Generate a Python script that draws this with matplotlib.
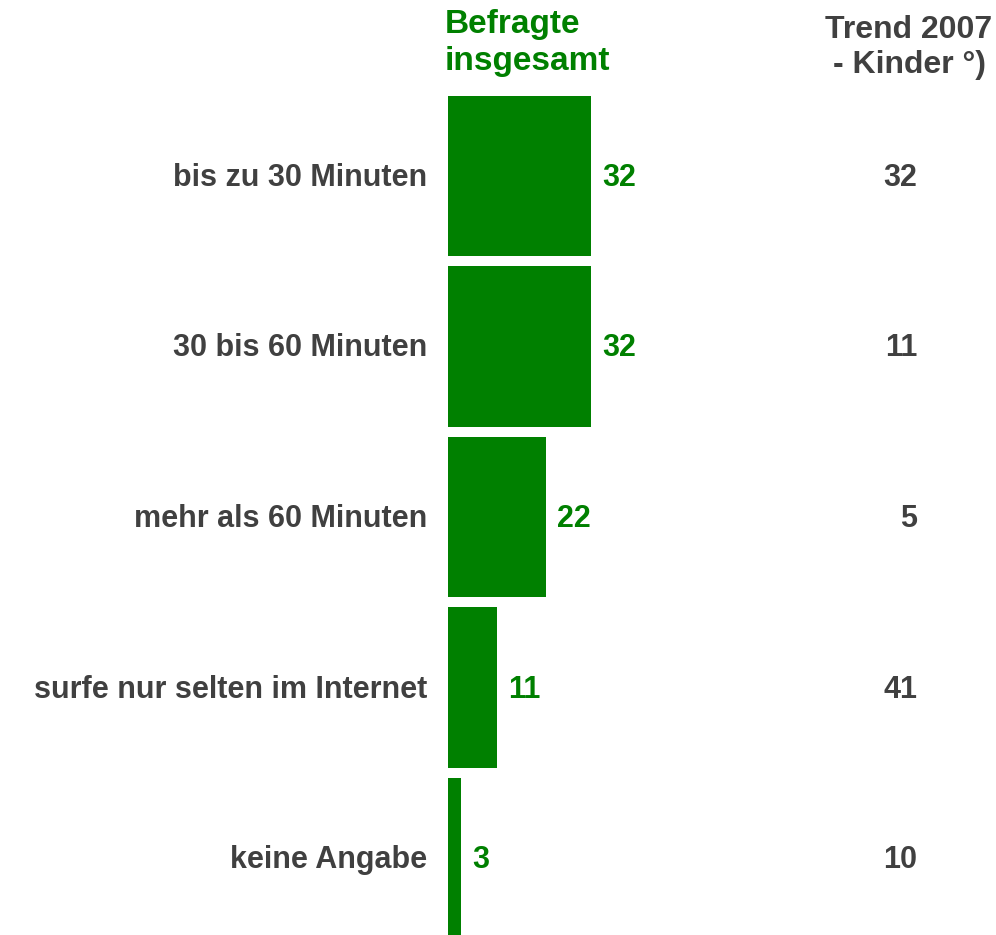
import matplotlib.pyplot as plt

plt.rcParams['font.family'] = ['Liberation Sans', 'DejaVu Sans']

categories = ['bis zu 30 Minuten', '30 bis 60 Minuten', 'mehr als 60 Minuten',
              'surfe nur selten im Internet', 'keine Angabe']
befragte = [32, 32, 22, 11, 3]
trend_2007 = [32, 11, 5, 41, 10]

green = '#008000'
gray = '#404040'
fs = 22

W, H = 996, 935
fig = plt.figure(figsize=(W / 100, H / 100), dpi=100)
# bars start at x=448 px, axes fills to the right edge
ax = fig.add_axes([448 / W, 0, 1 - 448 / W, 1])
ax.set_xlim(0, (W - 448) / 4.47)
ax.set_ylim((935 - 176) / 170.5, -176 / 170.5)
ax.axis('off')

ypos = list(range(len(categories)))
ax.barh(ypos, befragte, height=0.94, color=green)

for y, cat, v, t in zip(ypos, categories, befragte, trend_2007):
    ax.annotate(cat, xy=(0, y), xytext=(-21, -10), textcoords='offset pixels',
                ha='right', va='baseline', fontsize=fs, fontweight='bold', color=gray)
    ax.annotate(str(v), xy=(v, y), xytext=(11, -10), textcoords='offset pixels',
                ha='left', va='baseline', fontsize=fs, fontweight='bold', color=green)
    ax.annotate(str(t), xy=(917 / W, 1 - (176 + 170.5 * y) / H), xycoords='figure fraction',
                xytext=(0, -10), textcoords='offset pixels',
                ha='right', va='baseline', fontsize=fs, fontweight='bold', color=gray)

# headers: baselines placed explicitly
fig.text(445 / W, 1 - 33 / H, 'Befragte', ha='left', va='baseline',
         fontsize=24, fontweight='bold', color=green)
fig.text(445 / W, 1 - 70 / H, 'insgesamt', ha='left', va='baseline',
         fontsize=24, fontweight='bold', color=green)
fig.text(909 / W, 1 - 38 / H, 'Trend 2007', ha='center', va='baseline',
         fontsize=23, fontweight='bold', color=gray)
fig.text(909 / W, 1 - 73 / H, '- Kinder °)', ha='center', va='baseline',
         fontsize=23, fontweight='bold', color=gray)

fig.savefig('out.png', dpi=100)
